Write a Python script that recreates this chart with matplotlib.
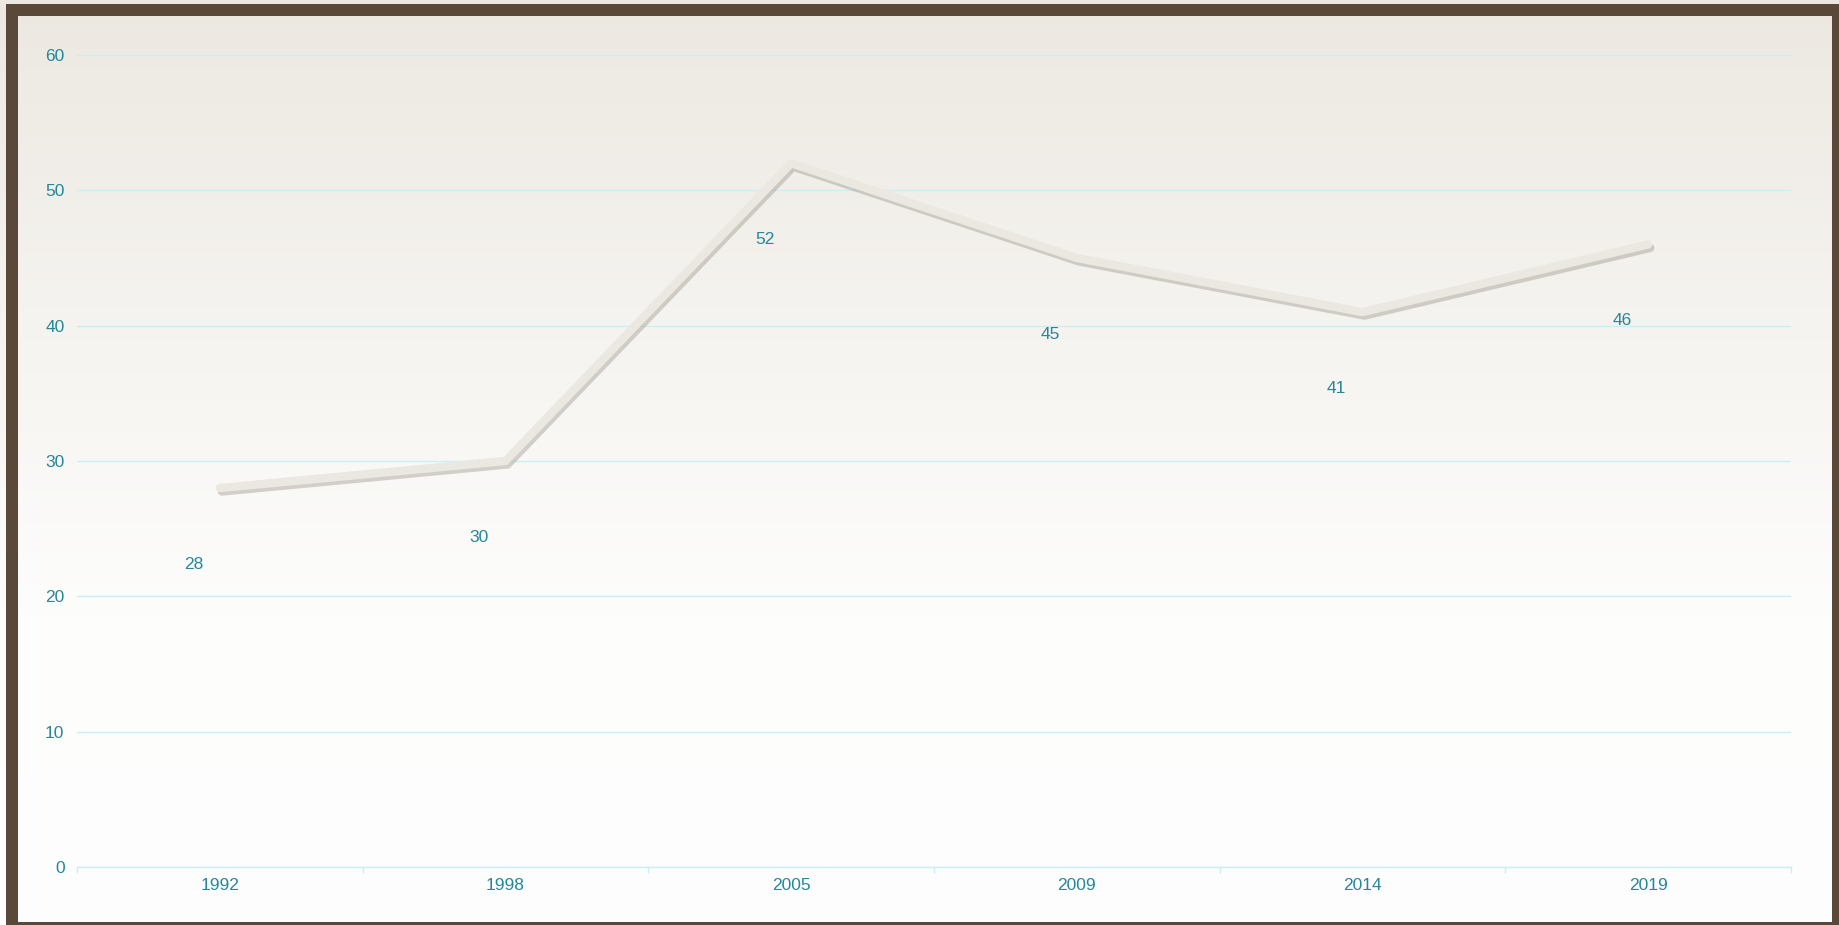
import numpy as np
import matplotlib
matplotlib.use("Agg")
import matplotlib.pyplot as plt
import matplotlib.patheffects as pe
from matplotlib.patches import Rectangle
from matplotlib.colors import LinearSegmentedColormap

years = ["1992", "1998", "2005", "2009", "2014", "2019"]
values = [28, 30, 52, 45, 41, 46]
y_ticks = [0, 10, 20, 30, 40, 50, 60]

teal = "#24879a"
grid_cyan = "#c8f0f4"
brown = "#5a4838"

plt.rcParams["font.family"] = ["Liberation Sans", "DejaVu Sans"]

W, H, DPI = 1839, 925, 100
fig = plt.figure(figsize=(W / DPI, H / DPI), dpi=DPI)

# gradient background
bg = fig.add_axes([0, 0, 1, 1], zorder=0)
cmap = LinearSegmentedColormap.from_list("bg", ["#ece8e1", "#f5f3ef", "#fdfdfc", "#fefefe"])
grad = np.linspace(0, 1, 256).reshape(-1, 1)
bg.imshow(grad, aspect="auto", cmap=cmap, extent=[0, 1, 0, 1], origin="upper")
bg.set_axis_off()

# brown frame, drawn as four bars (pixel boxes: x0, y0-from-top, x1, y1)
for x0, y0, x1, y1 in [(6, 4, W, 16), (6, 4, 18, H), (1832, 4, W, H), (6, 922, W, H)]:
    fig.patches.append(Rectangle((x0 / W, 1 - y1 / H), (x1 - x0) / W, (y1 - y0) / H,
                                 transform=fig.transFigure, facecolor=brown,
                                 edgecolor="none", zorder=5))

ax = fig.add_axes([77 / W, 1 - 867 / H, (1791 - 77) / W, (867 - 55) / H], zorder=1)
ax.patch.set_alpha(0)

x = np.arange(len(years))
ax.plot(x, values, color="#ebe7e1", linewidth=6, solid_capstyle="round",
        solid_joinstyle="round", zorder=3,
        path_effects=[pe.SimpleLineShadow(offset=(1.5, -2.5), shadow_color="#8a8378",
                                          alpha=0.35, linewidth=6),
                      pe.Normal()])

for xi, v in zip(x, values):
    ax.annotate(str(v), (xi, v), xytext=(-19, -55), textcoords="offset points",
                ha="center", va="center", color=teal, fontsize=12.5)

ax.set_xlim(-0.5, len(years) - 0.5)
ax.set_ylim(0, 60)
ax.set_yticks(y_ticks)
ax.set_yticklabels([str(t) for t in y_ticks])
ax.set_xticks(x)
ax.set_xticklabels(years)
ax.set_xticks(np.arange(-0.5, len(years), 1.0), minor=True)

ax.grid(axis="y", color=grid_cyan, linewidth=1)
ax.set_axisbelow(True)
for side in ["top", "right", "left"]:
    ax.spines[side].set_visible(False)
ax.spines["bottom"].set_color(grid_cyan)
ax.spines["bottom"].set_linewidth(1)

ax.tick_params(axis="y", length=0, pad=9, labelcolor=teal, labelsize=12.5)
ax.tick_params(axis="x", which="major", length=0, pad=8, labelcolor=teal, labelsize=12.5)
ax.tick_params(axis="x", which="minor", length=4, color=grid_cyan, width=1)

fig.savefig("out.png", dpi=DPI)
